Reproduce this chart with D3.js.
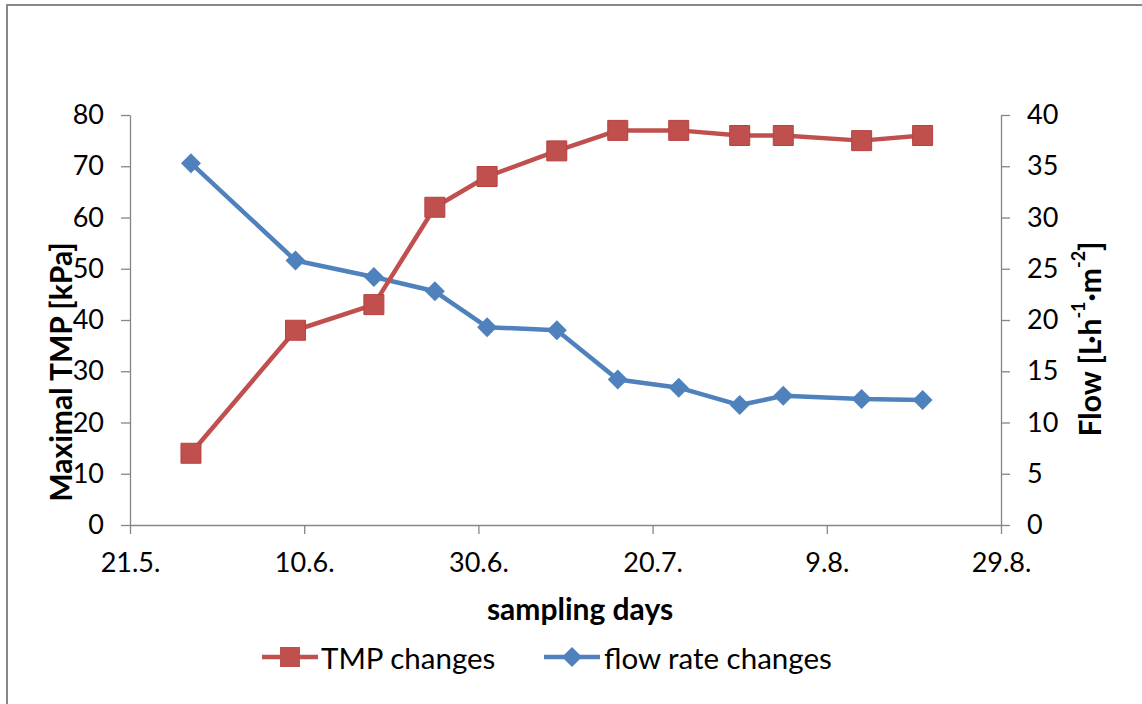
<!DOCTYPE html>
<html><head><meta charset="utf-8">
<script src="https://cdn.jsdelivr.net/npm/d3@7"></script>
<style>
html,body{margin:0;padding:0;background:#fff;}
svg text{font-family:Lato,"Open Sans",sans-serif;fill:#000;}
</style></head>
<body>
<svg id="chart" width="1142" height="704"></svg>
<script>
// sampling dates (day.month.)
const sampleDates = ["28.5.","9.6.","18.6.","25.6.","1.7.","9.7.","16.7.","23.7.","30.7.","4.8.","13.8.","20.8."];
const tmpValues = [14, 38, 43, 62, 68, 73, 77, 77, 76, 76, 75, 76];
const flowValues = [35.3, 25.8, 24.2, 22.8, 19.3, 19.0, 14.2, 13.4, 11.7, 12.6, 12.3, 12.2];
const xTickLabels = ["21.5.","10.6.","30.6.","20.7.","9.8.","29.8."];
const leftTicks = [0,10,20,30,40,50,60,70,80];
const rightTicks = [0,5,10,15,20,25,30,35,40];
const seriesNames = ["TMP changes","flow rate changes"];

const YEAR = 2013;
const parseDM = s => { const [d,m] = s.split(".").map(Number); return new Date(YEAR, m-1, d); };
const fmt = d3.timeFormat("%-d.%-m.");

const svg = d3.select("#chart");
const red = "#C0504D", blue = "#4F81BD", axisCol = "#868686";

// outer frame
svg.append("rect").attr("x",7).attr("y",5).attr("width",1142).attr("height",720)
  .attr("fill","none").attr("stroke","#888").attr("stroke-width",2);

const L = 130, R = 1001, T = 115, B = 525;
const x = d3.scaleTime().domain([parseDM(xTickLabels[0]), parseDM(xTickLabels[xTickLabels.length-1])]).range([L,R]);
const yL = d3.scaleLinear().domain([0,80]).range([B,T]);
const yR = d3.scaleLinear().domain([0,40]).range([B,T]);

function styleAxis(g){
  g.select(".domain").attr("stroke",axisCol).attr("stroke-width",1.3);
  g.selectAll(".tick line").attr("stroke",axisCol).attr("stroke-width",1.3);
  g.selectAll(".tick text").attr("font-size",27).attr("fill","#000");
}

const gx = svg.append("g").attr("transform",`translate(0,${B})`)
  .call(d3.axisBottom(x).tickValues(xTickLabels.map(parseDM)).tickFormat(fmt).tickSize(9).tickSizeOuter(0).tickPadding(19));
styleAxis(gx);

const gl = svg.append("g").attr("transform",`translate(${L},0)`)
  .call(d3.axisLeft(yL).tickValues(leftTicks).tickSize(9).tickSizeOuter(0).tickPadding(17));
styleAxis(gl);

const gr = svg.append("g").attr("transform",`translate(${R},0)`)
  .call(d3.axisRight(yR).tickValues(rightTicks).tickSize(9).tickSizeOuter(0).tickPadding(17));
styleAxis(gr);

// axis titles
svg.append("text").attr("transform","translate(60,372) rotate(-90)").attr("text-anchor","middle")
  .attr("dominant-baseline","central").attr("font-size",30).attr("font-weight","bold").text("Maximal TMP [kPa]");
const rt = svg.append("text").attr("transform","translate(1089,339) rotate(-90)").attr("text-anchor","middle")
  .attr("dominant-baseline","central").attr("font-size",30).attr("font-weight","bold");
rt.append("tspan").text("Flow [L·h");
rt.append("tspan").attr("font-size",18).attr("dy",-11).text("-1");
rt.append("tspan").attr("dy",11).text("·m");
rt.append("tspan").attr("font-size",18).attr("dy",-11).text("-2");
rt.append("tspan").attr("dy",11).text("]");
svg.append("text").attr("x",580).attr("y",608).attr("text-anchor","middle").attr("dominant-baseline","central")
  .attr("font-size",30).attr("font-weight","bold").text("sampling days");

const dates = sampleDates.map(parseDM);
const tmpData = dates.map((d,i)=>({d, v: tmpValues[i]}));
const flowData = dates.map((d,i)=>({d, v: flowValues[i]}));

const sq = d3.symbol().type(d3.symbolSquare).size(400);
const dia = d3.symbol().type(d3.symbolSquare).size(200);

// flow line (drawn first)
svg.append("path").datum(flowData).attr("fill","none").attr("stroke",blue).attr("stroke-width",4.5)
  .attr("stroke-linejoin","round").attr("d", d3.line().x(p=>x(p.d)).y(p=>yR(p.v)));
svg.append("path").datum(tmpData).attr("fill","none").attr("stroke",red).attr("stroke-width",4.5)
  .attr("stroke-linejoin","round").attr("d", d3.line().x(p=>x(p.d)).y(p=>yL(p.v)));

svg.selectAll(".fm").data(flowData).join("path").attr("class","fm")
  .attr("transform",p=>`translate(${x(p.d)},${yR(p.v)}) rotate(45)`).attr("d",dia()).attr("fill",blue);
svg.selectAll(".tm").data(tmpData).join("path").attr("class","tm")
  .attr("transform",p=>`translate(${x(p.d)},${yL(p.v)})`).attr("d",sq()).attr("fill",red)
  .attr("stroke","#b8413e").attr("stroke-width",1);

// legend
const leg = [{name:seriesNames[0], col:red, sym:"sq", x0:262, tx:321},
             {name:seriesNames[1], col:blue, sym:"dia", x0:544, tx:604}];
const ly = 657;
leg.forEach(l=>{
  svg.append("line").attr("x1",l.x0).attr("x2",l.x0+56).attr("y1",ly).attr("y2",ly)
    .attr("stroke",l.col).attr("stroke-width",4.5);
  svg.append("path").attr("transform",`translate(${l.x0+28},${ly})`+(l.sym==="dia"?" rotate(45)":""))
    .attr("d", l.sym==="dia"?dia():sq()).attr("fill",l.col);
  svg.append("text").attr("x",l.tx).attr("y",ly).attr("dominant-baseline","central")
    .attr("font-size",29.5).text(l.name);
});
</script>
</body></html>
